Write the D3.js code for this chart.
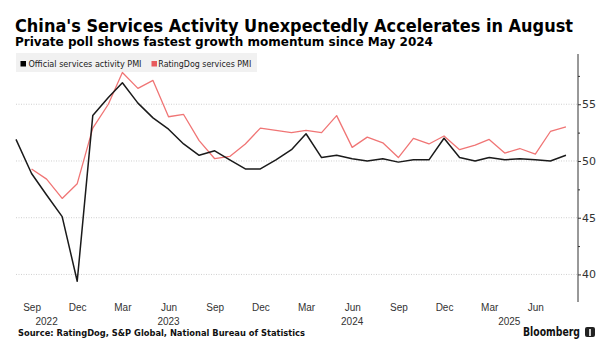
<!DOCTYPE html>
<html><head><meta charset="utf-8">
<script src="https://cdn.jsdelivr.net/npm/d3@7"></script>
<style>
html,body{margin:0;padding:0;background:#fff;}
svg{display:block;font-family:"DejaVu Sans",sans-serif;}
</style></head>
<body><svg id="c" width="613" height="358"></svg>
<script>
// ---- data ----
const startMonth = "2022-08";
const endMonth = "2025-08";
const official = [51.9, 48.9, 47.0, 45.1, 39.4,
  54.0, 55.6, 56.9, 55.1, 53.8, 52.8, 51.5, 50.5, 50.9, 50.1, 49.3, 49.3,
  50.1, 51.0, 52.4, 50.3, 50.5, 50.2, 50.0, 50.2, 49.9, 50.1, 50.1, 52.0,
  50.3, 50.0, 50.3, 50.1, 50.2, 50.1, 50.0, 50.5];
const ratingDog = [null, 49.3, 48.4, 46.7, 48.0,
  52.9, 55.0, 57.8, 56.4, 57.1, 53.9, 54.1, 51.8, 50.2, 50.4, 51.5, 52.9,
  52.7, 52.5, 52.7, 52.5, 54.0, 51.2, 52.1, 51.6, 50.3, 52.0, 51.5, 52.2,
  51.0, 51.4, 51.9, 50.7, 51.1, 50.6, 52.6, 53.0];
const seriesNames = ["Official services activity PMI", "RatingDog services PMI"];
const seriesColors = ["#1a1a1a", "#f07575"];
const yMajorTicks = [40, 45, 50, 55];
const yMinorTicks = [42.5, 47.5, 52.5, 57.5];
const monthTickDates = ["2022-09","2022-12","2023-03","2023-06","2023-09","2023-12",
  "2024-03","2024-06","2024-09","2024-12","2025-03","2025-06"];
const yearLabels = ["2022","2023","2024","2025"];
const yearLabelDates = ["2022-10-01","2023-06-01","2024-06-01","2025-04-10"];
const title = "China's Services Activity Unexpectedly Accelerates in August";
const subtitle = "Private poll shows fastest growth momentum since May 2024";
const source = "Source: RatingDog, S&P Global, National Bureau of Statistics";

// ---- setup ----
const parseM = d3.timeParse("%Y-%m");
const parseD = d3.timeParse("%Y-%m-%d");
const months = d3.timeMonth.range(parseM(startMonth), d3.timeMonth.offset(parseM(endMonth), 1));
const svg = d3.select("#c");

const plotL = 16, plotR = 578, plotT = 54, plotB = 302;
const x = d3.scaleTime()
  .domain([months[0], d3.timeDay.offset(months[months.length - 1], 24)])
  .range([plotL, plotR]);
const y = d3.scaleLinear().domain([37.57, 59.43]).range([plotB, plotT]);

function fit(sel, w) { sel.attr("textLength", w).attr("lengthAdjust", "spacingAndGlyphs"); return sel; }

// titles
fit(svg.append("text").attr("x", 15).attr("y", 32).attr("font-weight", "bold")
  .attr("font-size", 17).attr("fill", "#000").text(title), 558);
fit(svg.append("text").attr("x", 15).attr("y", 45.5).attr("font-weight", "bold")
  .attr("font-size", 12).attr("fill", "#000").text(subtitle), 418);

// gridlines
svg.append("g").selectAll("line").data(yMajorTicks).join("line")
  .attr("x1", plotL).attr("x2", plotR)
  .attr("y1", d => y(d)).attr("y2", d => y(d))
  .attr("stroke", "#cfcfcf").attr("stroke-width", 1).attr("stroke-dasharray", "1,1.5");

// legend
svg.append("rect").attr("x", 16).attr("y", 53).attr("width", 241).attr("height", 19).attr("fill", "#f1f1f1");
const legX = [20.5, 151.5];
const legTextX = [28.5, 158.3];
const legW = [113, 93];
seriesNames.forEach((n, i) => {
  svg.append("rect").attr("x", legX[i]).attr("y", 61).attr("width", 5.5).attr("height", 5.5)
    .attr("fill", i === 0 ? "#000" : "#e85a5c");
  fit(svg.append("text").attr("x", legTextX[i]).attr("y", 66.5).attr("font-size", 8.5)
    .attr("fill", "#222").text(n), legW[i]);
});

// y axis (right)
const yAxis = d3.axisRight(y).tickValues(yMajorTicks).tickSize(3).tickPadding(1).tickFormat(d3.format("d"));
const ga = svg.append("g").attr("transform", `translate(${plotR},0)`).call(yAxis);
ga.select(".domain").remove();
ga.selectAll("line").attr("stroke", "#333");
ga.selectAll("text").attr("font-size", 11).attr("fill", "#333").attr("font-family", "DejaVu Sans, sans-serif");
const gm = svg.append("g").attr("transform", `translate(${plotR},0)`)
  .call(d3.axisRight(y).tickValues(yMinorTicks).tickSize(2).tickFormat(""));
gm.select(".domain").remove();
gm.selectAll("line").attr("stroke", "#333");
svg.append("line").attr("x1", plotR).attr("x2", plotR).attr("y1", plotT).attr("y2", plotB)
  .attr("stroke", "#333").attr("stroke-width", 1);

// x axis labels
const xAxis = d3.axisBottom(x).tickValues(monthTickDates.map(parseM)).tickSize(0).tickPadding(0)
  .tickFormat(d3.timeFormat("%b"));
const gx = svg.append("g").attr("transform", `translate(0,${plotB + 2})`).call(xAxis);
gx.select(".domain").remove();
gx.selectAll("text").attr("font-size", 10).attr("fill", "#333").attr("dy", "0.71em")
  .attr("font-family", "Liberation Sans, Arial, sans-serif");
svg.append("g").selectAll("text").data(yearLabels).join("text")
  .attr("x", (d, i) => x(parseD(yearLabelDates[i]))).attr("y", 325)
  .attr("text-anchor", "middle").attr("font-size", 10).attr("fill", "#333")
  .attr("font-family", "Liberation Sans, Arial, sans-serif").text(d => d);

// lines
const line = d3.line().defined(d => d[1] != null).x(d => x(d[0])).y(d => y(d[1]));
[ratingDog, official].forEach((vals, k) => {
  const i = k === 0 ? 1 : 0;
  svg.append("path").datum(months.map((m, j) => [m, vals[j]]))
    .attr("d", line).attr("fill", "none").attr("stroke", seriesColors[i])
    .attr("stroke-width", i === 0 ? 1.5 : 1.3).attr("stroke-linejoin", "round");
});

// footer
fit(svg.append("text").attr("x", 18).attr("y", 336).attr("font-weight", "bold")
  .attr("font-size", 9.5).attr("fill", "#111").text(source), 287);
fit(svg.append("text").attr("x", 523).attr("y", 336).attr("font-weight", "bold")
  .attr("font-size", 11.5).attr("fill", "#111").text("Bloomberg"), 57);
svg.append("rect").attr("x", 585).attr("y", 327).attr("width", 10).attr("height", 10)
  .attr("rx", 2).attr("fill", "#222");
svg.append("rect").attr("x", 589.2).attr("y", 329).attr("width", 1.6).attr("height", 7).attr("fill", "#fff");
</script></body></html>
